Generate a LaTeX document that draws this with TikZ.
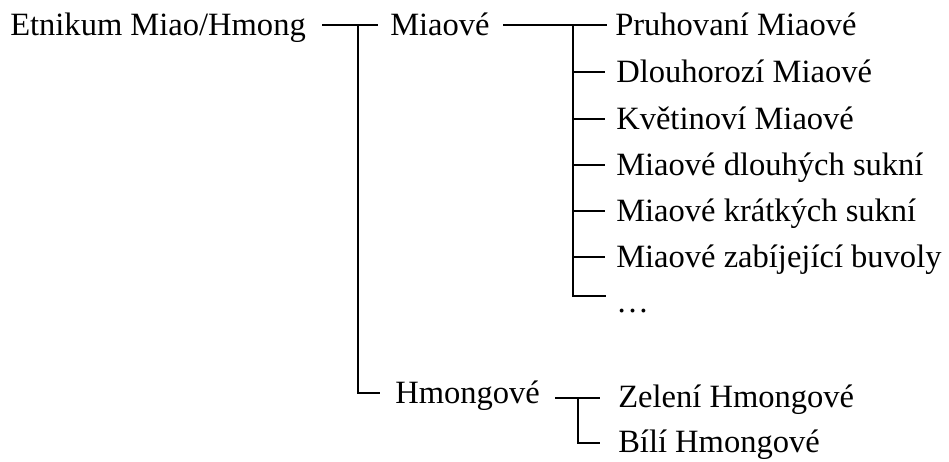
\documentclass[tikz,border=0pt]{standalone}
\usepackage{fontspec}
\setmainfont{Liberation Serif}
\begin{document}
\begin{tikzpicture}[x=0.75pt,y=-0.75pt,
  lbl/.style={anchor=base west, inner sep=0pt, font=\fontsize{24.4}{29}\selectfont},
  conn/.style={line width=1.5pt, line cap=butt, line join=miter}]
\useasboundingbox (0,0) rectangle (949,461);

% labels
\node[lbl] (root)  at (10,35)   {Etnikum Miao/Hmong};
\node[lbl] (miao)  at (390,35)  {Miaové};
\node[lbl] (hmong) at (395,403) {Hmongové};

\node[lbl] (m1) at (615,35)  {Pruhovaní Miaové};
\node[lbl] (m2) at (616,82)  {Dlouhorozí Miaové};
\node[lbl] (m3) at (616,129) {Květinoví Miaové};
\node[lbl] (m4) at (616,175) {Miaové dlouhých sukní};
\node[lbl] (m5) at (616,221) {Miaové krátkých sukní};
\node[lbl] (m6) at (616,267) {Miaové zabíjející buvoly};
\node[lbl] (m7) at (616,312) {…};

\node[lbl] (h1) at (618,407) {Zelení Hmongové};
\node[lbl] (h2) at (618,452) {Bílí Hmongové};

% junction points
\coordinate (rootOut) at (322,25);
\coordinate (rootJ)   at (358,25);
\coordinate (miaoIn)  at (378,25);
\coordinate (hmongIn) at (380,393);

\coordinate (miaoOut) at (503,25);
\coordinate (miaoJ)   at (573,25);
\coordinate (m1in) at (607,25);
\coordinate (m2in) at (605,72);
\coordinate (m3in) at (605,119);
\coordinate (m4in) at (605,165);
\coordinate (m5in) at (605,211);
\coordinate (m6in) at (605,257);
\coordinate (m7in) at (606,296);

\coordinate (hmongOut) at (555,398);
\coordinate (hmongJ)   at (578,398);
\coordinate (h1in) at (600,398);
\coordinate (h2in) at (600,443);

% top level
\draw[conn] (rootOut) -- (miaoIn);
\draw[conn] (rootJ) |- (hmongIn);

% Miaové subgroups
\draw[conn] (miaoOut) -- (m1in);
\draw[conn] (miaoJ) |- (m7in);
\foreach \c in {m2in,m3in,m4in,m5in,m6in}
  \draw[conn] (miaoJ |- \c) -- (\c);

% Hmongové subgroups
\draw[conn] (hmongOut) -- (h1in);
\draw[conn] (hmongJ) |- (h2in);
\end{tikzpicture}
\end{document}
